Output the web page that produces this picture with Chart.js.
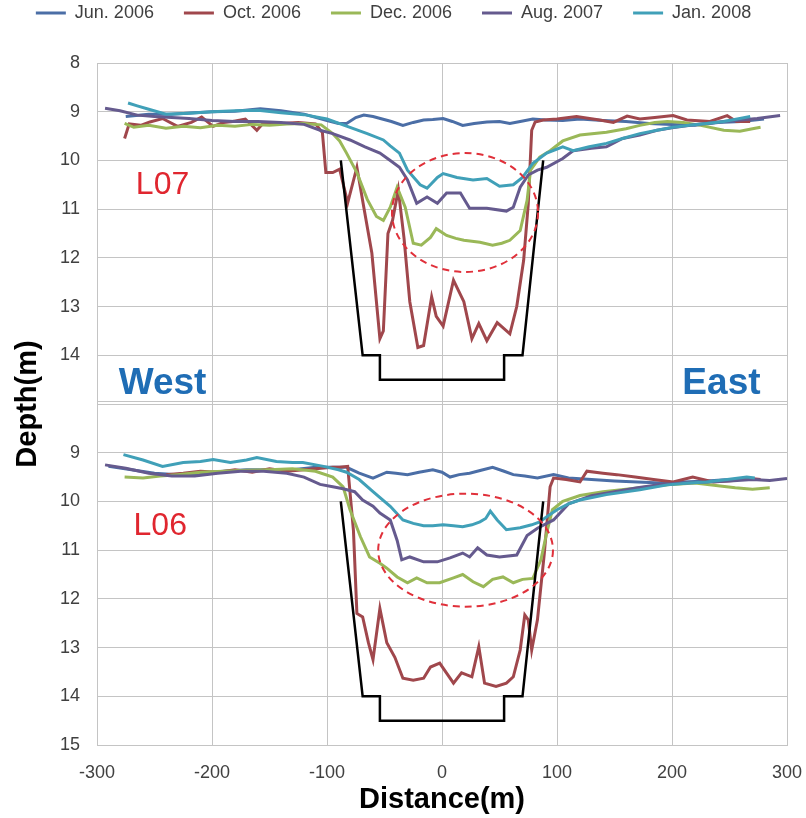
<!DOCTYPE html>
<html>
<head>
<meta charset="utf-8">
<script src="https://cdn.jsdelivr.net/npm/chart.js@4.4.0/dist/chart.umd.min.js"></script>
<style>
  html, body { margin: 0; padding: 0; background: #ffffff; }
  #contenedor { width: 806px; height: 818px; position: relative; }
</style>
</head>
<body>
<div id="contenedor"><canvas id="perfil_canal"></canvas></div>
<script>
// levantamientos y colores
const campanas = ['Jun. 2006', 'Oct. 2006', 'Dec. 2006', 'Aug. 2007', 'Jan. 2008'];
const colores = ['#4b6ea6', '#a0474c', '#9ab858', '#655a8e', '#40a0b8'];

// ---- perfil L07 (panel superior) ----
const dist_jun_l07 = [-275, -255, -235, -215, -200, -180, -158, -140, -120, -100, -90, -83, -75, -68, -60, -52, -44, -34, -25, -16, -8, 1, 9, 18, 28, 39, 50, 59, 68, 79, 90, 105, 120, 140, 160, 180, 200, 220, 240, 260, 280];
const prof_jun_l07 = [9.1, 9.05, 9.05, 9.02, 9.0, 8.99, 8.94, 8.98, 9.05, 9.18, 9.24, 9.24, 9.12, 9.07, 9.1, 9.15, 9.2, 9.28, 9.22, 9.17, 9.16, 9.14, 9.2, 9.28, 9.24, 9.21, 9.2, 9.24, 9.2, 9.15, 9.17, 9.18, 9.15, 9.18, 9.2, 9.24, 9.26, 9.28, 9.22, 9.2, 9.15];

const dist_oct_l07 = [-276, -272, -262, -254, -243, -230, -218, -209, -199, -190, -182, -171, -161, -155, -140, -125, -110, -104, -101, -95, -89, -82, -74, -68, -61, -54, -51, -47, -43, -38, -33, -28, -21, -16, -9, -5, 1, 10, 19, 26, 32, 39, 48, 59, 65, 71, 75, 78, 81, 88, 100, 117, 137, 149, 161, 172, 185, 201, 213, 233, 248, 256, 268];
const prof_oct_l07 = [9.55, 9.25, 9.28, 9.21, 9.14, 9.3, 9.22, 9.11, 9.3, 9.22, 9.2, 9.15, 9.38, 9.22, 9.24, 9.22, 9.25, 9.43, 10.25, 10.25, 10.18, 10.87, 10.14, 10.96, 11.9, 13.66, 13.5, 11.5, 11.23, 10.6, 11.6, 12.9, 13.84, 13.8, 12.8, 13.2, 13.4, 12.46, 12.9, 13.66, 13.35, 13.7, 13.33, 13.56, 13.0, 12.05, 10.9, 9.38, 9.21, 9.17, 9.15, 9.1, 9.17, 9.22, 9.09, 9.15, 9.12, 9.08, 9.17, 9.2, 9.08, 9.2, 9.2];

const dist_dic_l07 = [-276, -268, -255, -240, -225, -210, -195, -180, -165, -150, -135, -120, -105, -95, -89, -83, -74, -65, -57, -51, -45, -39, -32, -25, -18, -10, -5, 4, 12, 19, 26, 33, 44, 52, 59, 68, 74, 77, 85, 94, 105, 120, 143, 160, 172, 185, 196, 210, 225, 245, 259, 270, 277];
const prof_dic_l07 = [9.24, 9.32, 9.28, 9.34, 9.3, 9.33, 9.28, 9.3, 9.26, 9.28, 9.25, 9.24, 9.27, 9.45, 9.6, 9.85, 10.25, 10.8, 11.15, 11.23, 10.96, 10.55, 10.96, 11.7, 11.74, 11.58, 11.4, 11.54, 11.6, 11.64, 11.66, 11.68, 11.74, 11.7, 11.64, 11.44, 10.82, 10.2, 9.93, 9.8, 9.6, 9.48, 9.42, 9.35, 9.28, 9.22, 9.2, 9.22, 9.28, 9.38, 9.4, 9.35, 9.32];

const dist_ago_l07 = [-293, -280, -265, -250, -235, -220, -200, -180, -160, -140, -120, -106, -95, -80, -67, -54, -45, -37, -30, -22, -13, -4, 4, 16, 24, 39, 56, 62, 68, 75, 83, 91, 105, 114, 130, 143, 157, 172, 187, 200, 216, 230, 245, 260, 274, 294];
const prof_ago_l07 = [8.93, 8.98, 9.07, 9.1, 9.12, 9.14, 9.18, 9.2, 9.2, 9.22, 9.26, 9.38, 9.45, 9.58, 9.72, 9.85, 10.0, 10.14, 10.4, 10.88, 10.75, 10.88, 10.67, 10.67, 10.98, 10.98, 11.04, 10.96, 10.55, 10.3, 10.2, 10.14, 9.96, 9.8, 9.75, 9.72, 9.55, 9.48, 9.38, 9.33, 9.28, 9.24, 9.2, 9.17, 9.14, 9.08];

const dist_ene_l07 = [-273, -265, -255, -240, -220, -200, -180, -160, -140, -120, -100, -80, -65, -51, -45, -37, -30, -19, -13, -4, 1, 13, 27, 39, 50, 62, 70, 79, 91, 105, 114, 128, 143, 157, 172, 187, 201, 215, 230, 245, 259, 268];
const prof_ene_l07 = [8.82, 8.88, 8.95, 9.05, 9.03, 9.0, 8.98, 8.97, 9.02, 9.06, 9.15, 9.32, 9.45, 9.58, 9.7, 9.85, 10.2, 10.5, 10.57, 10.35, 10.27, 10.35, 10.4, 10.37, 10.53, 10.5, 10.35, 10.06, 9.85, 9.72, 9.8, 9.72, 9.65, 9.55, 9.45, 9.38, 9.32, 9.28, 9.24, 9.2, 9.14, 9.1];

// ---- perfil L06 (panel inferior) ----
const dist_jun_l06 = [-290, -270, -250, -230, -210, -190, -170, -150, -130, -110, -95, -83, -72, -60, -48, -40, -30, -20, -8, 0, 7, 15, 24, 34, 44, 54, 62, 72, 83, 97, 110, 130, 150, 170, 190, 210, 230, 250, 270];
const prof_jun_l06 = [9.28, 9.35, 9.42, 9.45, 9.42, 9.38, 9.35, 9.35, 9.35, 9.3, 9.3, 9.3, 9.42, 9.52, 9.4, 9.42, 9.45, 9.4, 9.35, 9.4, 9.5, 9.45, 9.42, 9.36, 9.3, 9.38, 9.45, 9.48, 9.52, 9.45, 9.52, 9.55, 9.58, 9.6, 9.62, 9.6, 9.58, 9.55, 9.55];

const dist_oct_l06 = [-240, -225, -210, -195, -180, -165, -150, -135, -120, -105, -95, -89, -82, -77, -74, -69, -64, -60, -54, -48, -41, -34, -25, -16, -10, -2, 10, 17, 26, 32, 37, 47, 56, 62, 68, 72, 75, 78, 83, 89, 94, 97, 108, 120, 126, 140, 152, 168, 184, 201, 218, 236, 253, 265, 277];
const prof_oct_l06 = [9.45, 9.42, 9.38, 9.4, 9.35, 9.4, 9.33, 9.38, 9.35, 9.32, 9.3, 9.3, 9.28, 10.6, 12.3, 12.37, 12.9, 13.25, 12.2, 12.9, 13.2, 13.63, 13.67, 13.63, 13.4, 13.32, 13.73, 13.52, 13.6, 12.98, 13.73, 13.8, 13.73, 13.6, 13.05, 12.33, 12.43, 13.05, 12.43, 11.06, 9.7, 9.52, 9.55, 9.6, 9.38, 9.42, 9.45, 9.5, 9.55, 9.6, 9.5, 9.6, 9.57, 9.52, 9.55];

const dist_dic_l06 = [-276, -260, -245, -230, -210, -190, -170, -150, -130, -110, -95, -86, -80, -71, -63, -54, -48, -39, -30, -22, -13, -2, 10, 18, 27, 36, 44, 53, 62, 70, 79, 86, 91, 96, 105, 120, 140, 160, 180, 200, 220, 240, 255, 270, 285];
const prof_dic_l06 = [9.5, 9.52, 9.48, 9.45, 9.4, 9.38, 9.36, 9.35, 9.33, 9.38, 9.5, 9.7, 10.17, 10.72, 11.14, 11.27, 11.37, 11.55, 11.67, 11.57, 11.67, 11.67, 11.57, 11.5, 11.65, 11.75, 11.6, 11.55, 11.67, 11.6, 11.58, 11.2, 10.65, 10.17, 10.0, 9.88, 9.8, 9.75, 9.7, 9.65, 9.62, 9.68, 9.72, 9.75, 9.72];

const dist_ago_l06 = [-293, -275, -255, -235, -215, -195, -175, -155, -135, -120, -106, -95, -86, -76, -69, -60, -54, -45, -39, -35, -28, -16, -4, 7, 18, 24, 31, 39, 50, 65, 74, 83, 97, 110, 130, 150, 170, 190, 210, 230, 250, 270, 285, 300];
const prof_ago_l06 = [9.25, 9.32, 9.42, 9.48, 9.48, 9.42, 9.38, 9.38, 9.42, 9.5, 9.65, 9.7, 9.74, 9.8, 9.97, 10.1, 10.24, 10.38, 10.8, 11.2, 11.14, 11.24, 11.24, 11.16, 11.06, 11.14, 10.95, 11.1, 11.14, 11.1, 10.7, 10.55, 10.38, 10.05, 9.88, 9.8, 9.72, 9.65, 9.62, 9.6, 9.58, 9.55, 9.57, 9.53];

const dist_ene_l06 = [-277, -260, -243, -225, -210, -199, -184, -170, -161, -144, -130, -121, -103, -90, -83, -72, -60, -45, -34, -25, -16, -8, 1, 10, 18, 26, 33, 38, 42, 48, 56, 68, 78, 85, 92, 100, 110, 120, 143, 172, 196, 215, 230, 248, 265, 272];
const prof_ene_l06 = [9.04, 9.15, 9.28, 9.2, 9.18, 9.14, 9.2, 9.15, 9.1, 9.18, 9.2, 9.2, 9.28, 9.35, 9.4, 9.55, 9.8, 10.1, 10.38, 10.45, 10.5, 10.5, 10.48, 10.5, 10.52, 10.48, 10.42, 10.35, 10.2, 10.38, 10.58, 10.54, 10.48, 10.42, 10.3, 10.17, 10.05, 9.97, 9.86, 9.76, 9.66, 9.62, 9.6, 9.55, 9.5, 9.52];

// seccion de diseno del canal (igual en ambos perfiles)
const canal_dist = [-88, -69, -54, -54, 54, 54, 70, 88];
const canal_prof = [10, 14, 14, 14.5, 14.5, 14, 14, 10];

// zona marcada con elipse punteada: [centro x, centro prof, semieje x, semieje prof]
const elipse_l07 = [20, 11.07, 63.5, 1.22];
const elipse_l06 = [20.5, 11.0, 76, 1.16];

const fuente = "'Liberation Sans', Arial, sans-serif";

function puntos(xs, ys) {
  return xs.map((x, i) => ({ x: x, y: ys[i] }));
}

function serie(i, xs, ys, eje) {
  return {
    label: campanas[i],
    data: puntos(xs, ys),
    yAxisID: eje,
    borderColor: colores[i],
    backgroundColor: colores[i],
    borderWidth: 3,
    pointRadius: 0,
    tension: 0,
    order: 4 - i
  };
}

function canal(eje) {
  return {
    label: 'canal',
    data: puntos(canal_dist, canal_prof),
    yAxisID: eje,
    borderColor: '#000000',
    backgroundColor: '#000000',
    borderWidth: 2.5,
    pointRadius: 0,
    tension: 0,
    order: -1
  };
}

const datos_l07 = [
  [dist_jun_l07, prof_jun_l07], [dist_oct_l07, prof_oct_l07], [dist_dic_l07, prof_dic_l07],
  [dist_ago_l07, prof_ago_l07], [dist_ene_l07, prof_ene_l07]
];
const datos_l06 = [
  [dist_jun_l06, prof_jun_l06], [dist_oct_l06, prof_oct_l06], [dist_dic_l06, prof_dic_l06],
  [dist_ago_l06, prof_ago_l06], [dist_ene_l06, prof_ene_l06]
];

const conjuntos = [
  ...datos_l07.map((d, i) => serie(i, d[0], d[1], 'y_l07')),
  ...datos_l06.map((d, i) => serie(i, d[0], d[1], 'y_l06')),
  canal('y_l07'),
  canal('y_l06')
];

// textos sobre la grafica
const rotulos = [
  { texto: 'L07', x: -243, y: 10.5, eje: 'y_l07', color: '#e0262f', font: "32px " + fuente },
  { texto: 'L06', x: -245, y: 10.51, eje: 'y_l06', color: '#e0262f', font: "32px " + fuente },
  { texto: 'West', x: -243, y: 14.59, eje: 'y_l07', color: '#1f6db5', font: "bold 37px " + fuente },
  { texto: 'East', x: 243, y: 14.59, eje: 'y_l07', color: '#1f6db5', font: "bold 37px " + fuente }
];

const gris = '#c4c4c4';

const anotaciones = {
  id: 'anotaciones',
  beforeDatasetsDraw(chart) {
    // doble raya entre los dos paneles
    const c = chart.ctx;
    const a = chart.chartArea;
    const y = Math.round(chart.scales.y_l07.bottom) - 2.5;
    c.save();
    c.strokeStyle = gris;
    c.lineWidth = 1;
    c.beginPath();
    c.moveTo(a.left, y);
    c.lineTo(a.right, y);
    c.stroke();
    c.restore();
  },
  afterDatasetsDraw(chart) {
    const c = chart.ctx;
    const sx = chart.scales.x;
    c.save();
    // elipses punteadas
    [[elipse_l07, 'y_l07'], [elipse_l06, 'y_l06']].forEach(([e, eje]) => {
      const sy = chart.scales[eje];
      const cx = sx.getPixelForValue(e[0]);
      const cy = sy.getPixelForValue(e[1]);
      const rx = Math.abs(sx.getPixelForValue(e[0] + e[2]) - cx);
      const ry = Math.abs(sy.getPixelForValue(e[1] + e[3]) - cy);
      c.beginPath();
      c.setLineDash([7, 5]);
      c.lineWidth = 2;
      c.strokeStyle = '#e0303a';
      c.ellipse(cx, cy, rx, ry, 0, 0, Math.PI * 2);
      c.stroke();
    });
    c.setLineDash([]);
    rotulos.forEach(r => {
      c.font = r.font;
      c.fillStyle = r.color;
      c.textAlign = 'center';
      c.textBaseline = 'middle';
      c.fillText(r.texto, sx.getPixelForValue(r.x), chart.scales[r.eje].getPixelForValue(r.y));
    });
    c.restore();
  }
};

const titulo_y = {
  id: 'titulo_y',
  afterDraw(chart) {
    const c = chart.ctx;
    const a = chart.chartArea;
    c.save();
    c.translate(28, (a.top + a.bottom) / 2);
    c.rotate(-Math.PI / 2);
    c.font = "bold 29px " + fuente;
    c.fillStyle = '#000000';
    c.textAlign = 'center';
    c.textBaseline = 'middle';
    c.fillText('Depth(m)', 0, 0);
    c.restore();
  }
};

// altura fija para la leyenda (arranca por encima del lienzo, ver layout.padding.top)
const alto_leyenda = {
  id: 'alto_leyenda',
  beforeInit(chart) {
    const fit_original = chart.legend.fit;
    chart.legend.fit = function () {
      fit_original.call(this);
      this.height = 89;
    };
  }
};

const ticks_eje = { color: '#404040', font: { family: fuente, size: 18 } };

function eje_prof(oculto) {
  return {
    type: 'linear',
    position: 'left',
    stack: 'profundidad',
    stackWeight: 1,
    reverse: true,
    min: 8,
    max: 15,
    ticks: {
      ...ticks_eje,
      stepSize: 1,
      padding: 17,
      callback: v => (v === oculto ? '' : v)
    },
    grid: { color: gris, drawTicks: false },
    border: { color: gris },
    afterFit: s => { s.width = 97; }
  };
}

const ctx = document.getElementById('perfil_canal').getContext('2d');

let grafica_perfil = new Chart(ctx, {
  type: 'line',
  data: { datasets: conjuntos },
  plugins: [alto_leyenda, anotaciones, titulo_y],
  options: {
    responsive: true,
    maintainAspectRatio: false,
    animation: false,
    layout: { padding: { left: 0, right: 19, top: -26, bottom: 0 } },
    plugins: {
      legend: {
        display: true,
        position: 'top',
        labels: {
          usePointStyle: true,
          pointStyle: 'line',
          pointStyleWidth: 30,
          padding: 30,
          color: '#404040',
          font: { family: fuente, size: 18 },
          filter: item => item.datasetIndex < 5,
          sort: (a, b) => a.datasetIndex - b.datasetIndex
        }
      },
      tooltip: { enabled: false }
    },
    scales: {
      x: {
        type: 'linear',
        min: -300,
        max: 300,
        ticks: { ...ticks_eje, stepSize: 100, padding: 0 },
        grid: { color: gris, drawTicks: true, tickLength: 17, tickColor: 'rgba(0,0,0,0)' },
        border: { color: gris },
        title: {
          display: true,
          text: 'Distance(m)',
          color: '#000000',
          font: { family: fuente, size: 29, weight: 'bold' },
          padding: { top: 0, bottom: 1 }
        },
        afterFit: s => { s.height = 73; }
      },
      y_l06: eje_prof(8),
      y_l07: eje_prof(15)
    }
  }
});
</script>
</body>
</html>
